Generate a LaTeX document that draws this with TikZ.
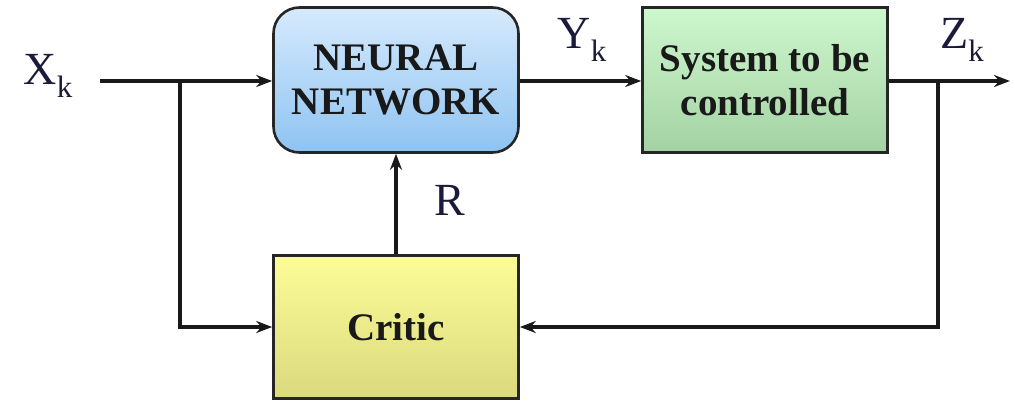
\documentclass[tikz,border=0pt]{standalone}
\usepackage{fontspec}
\setmainfont{Liberation Serif}
\usetikzlibrary{arrows.meta}
\definecolor{nntop}{HTML}{D6EAFC}
\definecolor{nnbot}{HTML}{8EC3F2}
\definecolor{systop}{HTML}{CDF7CD}
\definecolor{sysbot}{HTML}{A4D2A4}
\definecolor{crtop}{HTML}{FCFC98}
\definecolor{crbot}{HTML}{DADA7E}
\definecolor{ink}{HTML}{1A1A3A}
\newcommand{\sub}[1]{\raisebox{-0.3em}{\fontsize{31}{31}\selectfont #1}}
\tikzset{
  block/.style={draw=black!85, line width=2.6pt, minimum width=245pt, minimum height=145pt,
    align=center, font=\fontsize{39}{44}\selectfont\bfseries, text=black!90},
  wire/.style={line width=3.2pt, black!90},
  flow/.style={wire, -{Stealth[length=16pt, width=12pt]}},
  sig/.style={font=\fontsize{46}{46}\selectfont, text=ink}
}
\begin{document}
\begin{tikzpicture}[x=1pt, y=-1pt]
  \useasboundingbox (0,0) rectangle (1015,401);
  % blocks
  \node[block, rounded corners=26pt, top color=nntop, bottom color=nnbot] (nn) at (396,80) {NEURAL\\NETWORK};
  \node[block, top color=systop, bottom color=sysbot] (sys) at (765,80) {System to be\\controlled};
  \node[block, top color=crtop, bottom color=crbot, minimum height=143pt] (critic) at (396,327) {Critic};
  % signal points
  \coordinate (xin) at (100,81);
  \coordinate (xb) at (180,81);
  \coordinate (zout) at (1010,81);
  \coordinate (zb) at (938,81);
  % connectors
  \draw[flow] (xin) -- (nn.west |- xin);
  \draw[flow] (xb) |- (critic.west);
  \draw[flow] (nn.east |- xin) -- (sys.west |- xin);
  \draw[flow] (sys.east |- zb) -- (zout);
  \draw[flow] (zb) |- (critic.east);
  \draw[flow] (critic.north) -- (nn.south);
  % labels
  \node[sig] (xk) at (48,76) {X\sub{k}};
  \node[sig] (yk) at (582,40) {Y\sub{k}};
  \node[sig] (zk) at (962,40) {Z\sub{k}};
  \node[sig] (r) at (450,200) {R};
\end{tikzpicture}
\end{document}
